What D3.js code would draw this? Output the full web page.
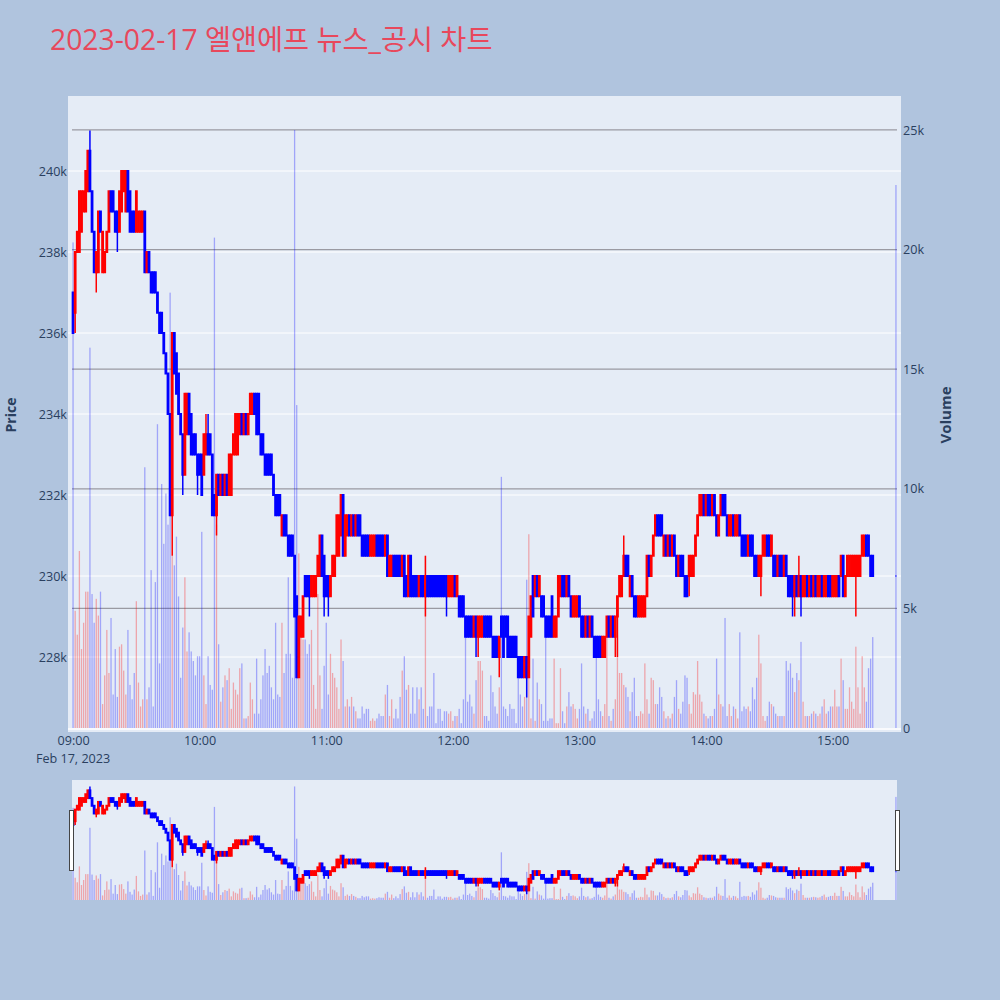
<!DOCTYPE html>
<html>
<head>
<meta charset="utf-8">
<script src="https://d3js.org/d3.v7.min.js"></script>
<style>
  body { margin: 0; background: #B0C4DE; }
  text { font-family: "Open Sans", "Noto Sans CJK KR", sans-serif; }
</style>
</head>
<body>
<svg id="chart" width="1000" height="1000"></svg>
<script>
// minute bars, 2023-02-17 (prices in thousand won, volume in thousand shares)
const times = [
"09:00","09:01","09:02","09:03","09:04","09:05","09:06","09:07","09:08","09:09",
"09:10","09:11","09:12","09:13","09:14","09:15","09:16","09:17","09:18","09:19",
"09:20","09:21","09:22","09:23","09:24","09:25","09:26","09:27","09:28","09:29",
"09:30","09:31","09:32","09:33","09:34","09:35","09:36","09:37","09:38","09:39",
"09:40","09:41","09:42","09:43","09:44","09:45","09:46","09:47","09:48","09:49",
"09:50","09:51","09:52","09:53","09:54","09:55","09:56","09:57","09:58","09:59",
"10:00","10:01","10:02","10:03","10:04","10:05","10:06","10:07","10:08","10:09",
"10:10","10:11","10:12","10:13","10:14","10:15","10:16","10:17","10:18","10:19",
"10:20","10:21","10:22","10:23","10:24","10:25","10:26","10:27","10:28","10:29",
"10:30","10:31","10:32","10:33","10:34","10:35","10:36","10:37","10:38","10:39",
"10:40","10:41","10:42","10:43","10:44","10:45","10:46","10:47","10:48","10:49",
"10:50","10:51","10:52","10:53","10:54","10:55","10:56","10:57","10:58","10:59",
"11:00","11:01","11:02","11:03","11:04","11:05","11:06","11:07","11:08","11:09",
"11:10","11:11","11:12","11:13","11:14","11:15","11:16","11:17","11:18","11:19",
"11:20","11:21","11:22","11:23","11:24","11:25","11:26","11:27","11:28","11:29",
"11:30","11:31","11:32","11:33","11:34","11:35","11:36","11:37","11:38","11:39",
"11:40","11:41","11:42","11:43","11:44","11:45","11:46","11:47","11:48","11:49",
"11:50","11:51","11:52","11:53","11:54","11:55","11:56","11:57","11:58","11:59",
"12:00","12:01","12:02","12:03","12:04","12:05","12:06","12:07","12:08","12:09",
"12:10","12:11","12:12","12:13","12:14","12:15","12:16","12:17","12:18","12:19",
"12:20","12:21","12:22","12:23","12:24","12:25","12:26","12:27","12:28","12:29",
"12:30","12:31","12:32","12:33","12:34","12:35","12:36","12:37","12:38","12:39",
"12:40","12:41","12:42","12:43","12:44","12:45","12:46","12:47","12:48","12:49",
"12:50","12:51","12:52","12:53","12:54","12:55","12:56","12:57","12:58","12:59",
"13:00","13:01","13:02","13:03","13:04","13:05","13:06","13:07","13:08","13:09",
"13:10","13:11","13:12","13:13","13:14","13:15","13:16","13:17","13:18","13:19",
"13:20","13:21","13:22","13:23","13:24","13:25","13:26","13:27","13:28","13:29",
"13:30","13:31","13:32","13:33","13:34","13:35","13:36","13:37","13:38","13:39",
"13:40","13:41","13:42","13:43","13:44","13:45","13:46","13:47","13:48","13:49",
"13:50","13:51","13:52","13:53","13:54","13:55","13:56","13:57","13:58","13:59",
"14:00","14:01","14:02","14:03","14:04","14:05","14:06","14:07","14:08","14:09",
"14:10","14:11","14:12","14:13","14:14","14:15","14:16","14:17","14:18","14:19",
"14:20","14:21","14:22","14:23","14:24","14:25","14:26","14:27","14:28","14:29",
"14:30","14:31","14:32","14:33","14:34","14:35","14:36","14:37","14:38","14:39",
"14:40","14:41","14:42","14:43","14:44","14:45","14:46","14:47","14:48","14:49",
"14:50","14:51","14:52","14:53","14:54","14:55","14:56","14:57","14:58","14:59",
"15:00","15:01","15:02","15:03","15:04","15:05","15:06","15:07","15:08","15:09",
"15:10","15:11","15:12","15:13","15:14","15:15","15:16","15:17","15:18","15:19",
"15:30"];

const openK = [
237,236.5,238,238,238.5,239,239,239.5,240.5,239.5,
238.5,237.5,237.5,239,237.5,237.5,238,238.5,239.5,239.5,
239,239,238.5,239,239.5,239,240,239.5,239,239,
238.5,238.5,238.5,238.5,239,237.5,238,237.5,237.5,237.5,
237,236.5,236.5,236,235.5,235,234,231.5,236,235.5,
235,234,233.5,232.5,233.5,234.5,234,233.5,233.5,233,
233,233,232.5,233,233.5,233.5,233,232,231.5,232.5,
232,232.5,232,232.5,232,232,233,233,233,233.5,
234,233.5,234,233.5,234,234,234.5,234.5,234.5,233.5,
233.5,233,233,233,233,232.5,232,232,232,231,
231.5,231.5,231,231,231,230.5,229.5,227.5,228.5,228.5,
230,230,230,229.5,229.5,229.5,230,230,231,230.5,
230,230,229.5,230,230,230.5,230.5,231,232,230.5,
231,231.5,231,231.5,231,231.5,231.5,231,231,231,
231,230.5,230.5,230.5,231,231,231,231,230.5,231,
230,230,230.5,230.5,230.5,230.5,230,230.5,230,229.5,
230.5,230,230,230,229.5,230,230,229.5,230,230,
230,230,230,230,230,230,230,230,229.5,229.5,
229.5,230,229.5,229.5,229.5,229.5,229,229,229,229,
228.5,229,228.5,228.5,228.5,229,229,229,229,228.5,
228.5,228.5,228,229,229,229,229,228.5,228.5,228.5,
228.5,228,228,228,227.5,228,227.5,228.5,230,229.5,
230,229.5,229.5,229.5,229,229,229,229.5,228.5,228.5,
229,229.5,230,230,229.5,230,229.5,229,229,229,
229.5,229,229,228.5,229,228.5,229,228.5,228.5,228.5,
228.5,228,228,228.5,229,228.5,229,228.5,229,229.5,
229.5,230,230.5,230.5,229.5,230,229.5,229.5,229,229,
229,229,229.5,230.5,230,230.5,231,231.5,231.5,231.5,
230.5,231,230.5,231,230.5,231,230.5,230,230.5,230.5,
230,230,230,230,230,230.5,231,231.5,231.5,232,
231.5,232,232,231.5,232,231.5,231,231.5,232,232,
231.5,231,231,231.5,231,231,231.5,231,231,231,
230.5,231,231,230.5,230.5,230,230,230.5,230.5,231,
231,230.5,230.5,230.5,230,230.5,230.5,230,230.5,230,
230,230,229.5,230,229.5,230,229.5,229.5,230,229.5,
230,229.5,230,229.5,229.5,230,229.5,229.5,230,230,
229.5,229.5,229.5,230,230,230.5,229.5,230,230,230,
230,230,230,230,230.5,230.5,231,231,230.5,230.5,
230];

const highK = [
237,238,238.5,239.5,239.5,239.5,240,240.5,241,239.5,
238.5,238,239,239,238.5,238,238.5,239.5,239.5,239.5,
239,239,239.5,240,240,240,240,239.5,239,239,
239.5,239,239,239,239,238,238,237.5,237.5,237.5,
237,236.5,236.5,236,235.5,235,234,236,236,235.5,
235,234,233.5,234.5,234.5,234.5,234,233.5,233.5,233,
233,233,233.5,234,234,233.5,233,232,232.5,232.5,
232.5,232.5,232.5,232.5,233,233,233.5,234,234,234,
234,234,234,234,234.5,234.5,234.5,234.5,234.5,233.5,
233.5,233,233,233,233,232.5,232,232,232,231.5,
231.5,231.5,231,231,231,230.5,229.5,229,229,229.5,
230,230,230,230,230,230,230.5,231,231,230.5,
230,230,230,230.5,230.5,231.5,231.5,232,232,231.5,
231.5,231.5,231.5,231.5,231.5,231.5,231.5,231,231,231,
231,231,231,231,231,231,231,231,231,231,
230.5,230.5,230.5,230.5,230.5,230.5,230.5,230.5,230,230.5,
230.5,230,230,230,230,230,230,230.5,230,230,
230,230,230,230,230,230,230,230,230,230,
230,230,230,229.5,229.5,229.5,229,229,229,229,
229,229,229,229,229,229,229,229,229,228.5,
228.5,228.5,228.5,229,229,229,229,228.5,228.5,228.5,
228.5,228,228,228,228,228,229,229.5,230,230,
230,230,229.5,229.5,229,229,229,229.5,229,229,
230,230,230,230,230,230,229.5,229.5,229.5,229.5,
229.5,229,229,229,229,229,229,228.5,228.5,228.5,
228.5,228.5,228.5,229,229,229,229,229,229.5,230,
230,231,230.5,230.5,230,230,229.5,229.5,229.5,229.5,
229.5,229.5,230.5,230.5,230.5,231,231.5,231.5,231.5,231.5,
231,231,231,231,231,231,230.5,230.5,230.5,230.5,
230,230,230.5,230.5,230.5,231,231.5,232,232,232,
232,232,232,232,232,231.5,231.5,232,232,232,
231.5,231.5,231.5,231.5,231.5,231.5,231.5,231,231,231,
231,231,231,230.5,230.5,230.5,230.5,231,231,231,
231,231,230.5,230.5,230.5,230.5,230.5,230.5,230.5,230,
230,230,230,230,230.5,230,230,230,230,230,
230,230,230,230,230,230,230,230,230,230,
230,230,230,230,230.5,230.5,230,230.5,230.5,230.5,
230.5,230.5,230.5,230.5,231,231,231,231,230.5,230.5,
230];

const lowK = [
236,236,238,238,238.5,239,239,239.5,239.5,238.5,
237.5,237,237.5,238.5,237.5,237.5,238,238.5,239,239,
238.5,238,238.5,239,239.5,239,239,238.5,238.5,238.5,
238.5,238.5,238.5,238.5,237.5,237.5,237.5,237,237,237,
236.5,236,236,235.5,235,234,231.5,230.5,235,234.5,
234,233.5,232,232.5,233.5,233.5,233,233,233,232,
232.5,232,232.5,233,233,233,231.5,231.5,231,232,
232,232,232,232,232,232,233,233,233,233.5,
233.5,233.5,233.5,233.5,234,234,234,233.5,233.5,233,
233,232.5,232.5,232.5,232.5,232,231.5,231.5,231.5,231,
231,231,230.5,230.5,230.5,229,227.5,227.5,228.5,228.5,
229.5,229.5,229,229.5,229.5,229.5,230,230,230,229,
229.5,229,229.5,230,230,230.5,230.5,231,230.5,230.5,
231,231,231,231,231,231,231,230.5,230.5,230.5,
230.5,230.5,230.5,230.5,230.5,230.5,230.5,230.5,230.5,230,
230,230,230,230,230,230,230,229.5,229.5,229.5,
229.5,229.5,229.5,229.5,229.5,229.5,229.5,229,229.5,229.5,
229.5,229.5,229.5,229.5,229.5,229.5,229.5,229,229.5,229.5,
229.5,229.5,229.5,229,229,229,228.5,228.5,228.5,228.5,
228.5,228,228,228.5,228.5,228.5,228.5,228.5,228.5,228,
228,228,227.5,228.5,228,228.5,228,228,228,228,
228,227.5,227.5,227.5,227.5,227,227.5,228.5,229,229.5,
229.5,229.5,229,229,228.5,228.5,228.5,228.5,228.5,228.5,
229,229.5,229.5,229.5,229.5,229.5,229,229,229,229,
229,228.5,228.5,228.5,228.5,228.5,228.5,228,228,228,
228,228,228,228.5,228.5,228.5,228.5,228,228,229.5,
229.5,230,230,230,229.5,229.5,229,229,229,229,
229,229,229.5,230,230,230.5,231,231,231,231,
230.5,230.5,230.5,230.5,230.5,230.5,230,230,230,230,
229.5,229.5,229.5,230,230,230.5,231,231.5,231.5,231.5,
231.5,231.5,231.5,231.5,231.5,231,231,231.5,231.5,231.5,
231,231,231,231,231,231,231,230.5,230.5,230.5,
230.5,230.5,230.5,230,230,230,229.5,230.5,230.5,230.5,
230.5,230.5,230,230,230,230,230,230,230,229.5,
229.5,229,229,229.5,229.5,229,229.5,229.5,229.5,229.5,
229.5,229.5,229.5,229.5,229.5,229.5,229.5,229.5,229.5,229.5,
229.5,229.5,229.5,229.5,230,229.5,229.5,230,230,230,
230,229,230,230,230.5,230.5,230.5,230.5,230,230,
230];

const closeK = [
236,238,238.5,239.5,239.5,239.5,240,240.5,239.5,238.5,
237.5,238,239,238.5,238.5,238,238.5,239.5,239,239,
238.5,238.5,239.5,240,240,240,239,238.5,238.5,238.5,
239.5,239,239,239,237.5,238,237.5,237,237,237,
236.5,236,236,235.5,235,234,231.5,236,235,234.5,
234,233.5,232.5,234.5,234.5,233.5,233,233,233,232.5,
232.5,232,233.5,233.5,233,233,231.5,231.5,232.5,232,
232.5,232,232.5,232,233,233,233.5,234,234,234,
233.5,234,233.5,234,234.5,234.5,234,233.5,233.5,233,
233,232.5,232.5,232.5,232.5,232,231.5,231.5,231.5,231.5,
231,231,230.5,230.5,230.5,229,227.5,229,229,229.5,
229.5,229.5,229.5,230,230,230,230.5,231,230,229.5,
229.5,229.5,230,230.5,230.5,231.5,231.5,232,230.5,231.5,
231.5,231,231.5,231,231.5,231,231,230.5,230.5,230.5,
230.5,231,231,231,230.5,230.5,230.5,230.5,231,230,
230.5,230.5,230,230,230,230,230.5,229.5,229.5,230.5,
229.5,229.5,229.5,229.5,230,229.5,229.5,230,229.5,229.5,
229.5,229.5,229.5,229.5,229.5,229.5,229.5,229.5,230,230,
230,229.5,230,229,229,229,228.5,228.5,228.5,228.5,
229,228.5,229,229,229,228.5,228.5,228.5,228.5,228,
228,228,228.5,228.5,228,228.5,228,228,228,228,
228,227.5,227.5,227.5,228,227.5,229,229.5,229,230,
229.5,230,229,229,228.5,228.5,228.5,228.5,229,229,
230,230,229.5,229.5,230,229.5,229,229.5,229.5,229.5,
229,228.5,228.5,229,228.5,229,228.5,228,228,228,
228,228.5,228.5,229,228.5,229,228.5,229,229.5,230,
230,230.5,230,230,230,229.5,229,229,229.5,229.5,
229.5,229.5,230.5,230,230.5,231,231.5,231,231,231,
231,230.5,231,230.5,231,230.5,230,230.5,230,230,
229.5,229.5,230.5,230.5,230.5,231,231.5,232,232,231.5,
232,231.5,231.5,232,231.5,231,231.5,232,231.5,231.5,
231,231.5,231.5,231,231.5,231.5,231,230.5,230.5,230.5,
231,230.5,230.5,230,230,230.5,230.5,231,231,230.5,
230.5,231,230,230,230.5,230,230,230.5,230,229.5,
229.5,229.5,230,229.5,230,229.5,230,230,229.5,230,
229.5,230,229.5,230,230,229.5,230,230,229.5,229.5,
230,230,230,229.5,230.5,229.5,230,230.5,230.5,230.5,
230.5,230.5,230.5,230.5,231,231,230.5,230.5,230,230,
230];

const volumeK = [
20.3,4.9,3.9,7.4,3.3,4.4,5.7,5.7,15.9,5.6,
4.4,5.4,4.7,5.7,1.0,2.2,4.1,2.3,4.6,1.4,
3.3,1.3,3.4,3.5,2.4,1.4,4.1,1.8,1.2,2.3,
5.3,1.9,0.9,1.2,10.9,1.2,1.7,6.6,0.9,6.1,
12.7,2.7,10.2,7.7,9.8,8.5,18.2,7.2,6.8,8.0,
5.5,2.1,4.2,6.3,3.2,4.0,3.2,2.8,2.2,3.0,
3.0,8.2,2.2,1.0,3.0,1.8,1.6,20.5,8.5,3.5,
1.1,1.7,2.2,2.0,2.5,0.8,1.9,1.6,1.4,2.5,
2.7,0.4,0.4,0.5,1.9,1.2,0.6,2.9,0.6,1.2,
2.2,3.3,2.3,2.6,1.7,1.2,4.4,1.4,1.3,4.4,
2.3,3.1,6.3,3.1,2.1,25.0,13.5,7.3,4.0,3.7,
3.7,3.1,3.5,4.1,1.8,0.8,5.6,2.2,0.8,2.6,
4.4,1.4,3.1,2.3,2.1,1.7,0.8,3.7,2.8,0.9,
1.2,0.9,1.3,0.9,0.7,0.4,0.4,0.9,0.6,0.8,
0.8,0.3,0.4,0.3,0.4,0.6,0.5,0.5,1.4,1.8,
0.5,1.2,0.4,0.8,0.4,1.3,2.4,3.0,1.6,1.8,
0.6,1.7,0.6,1.7,1.2,1.7,0.8,7.2,0.5,0.9,
0.9,2.3,0.2,0.8,0.8,0.3,0.7,0.7,0.6,0.7,
0.3,0.5,0.5,0.8,0.2,1.2,4.7,1.1,1.4,0.9,
0.6,2.0,2.8,2.8,2.4,0.5,0.5,0.3,2.2,1.5,
0.9,0.6,1.7,10.5,0.9,0.8,0.5,1.0,0.8,0.8,
0.2,2.3,1.4,0.9,1.3,6.2,8.1,0.4,2.9,0.3,
1.9,1.2,1.0,0.3,4.7,0.3,0.4,0.4,2.9,0.2,
0.2,2.5,0.7,0.2,0.9,1.5,0.9,1.0,0.8,0.4,
0.8,2.7,0.9,0.6,0.8,0.3,0.4,0.7,3.0,1.2,
0.7,0.5,1.0,4.2,0.5,0.3,0.8,1.2,3.9,2.3,
2.3,1.8,1.7,1.3,0.7,1.5,2.1,0.5,0.5,0.7,
0.6,2.7,1.2,0.6,2.1,2.0,1.0,1.0,1.7,1.3,
0.7,0.4,0.5,0.4,0.6,1.3,2.0,0.8,0.6,1.1,
2.2,2.1,1.0,0.6,1.5,1.4,2.8,1.4,1.1,0.6,
0.5,0.4,0.5,0.5,0.8,2.9,1.4,1.0,0.9,4.6,
0.5,1.0,0.5,0.9,0.8,0.4,4.0,0.7,0.9,0.8,
0.9,0.7,1.7,1.2,2.1,3.9,2.7,0.5,0.3,0.5,
1.1,1.0,0.9,0.6,0.5,0.5,0.5,0.5,2.8,2.4,
2.7,2.1,1.5,2.3,2.0,3.6,1.1,0.5,0.5,0.5,
0.6,0.7,0.6,0.5,0.6,0.9,1.2,0.6,0.7,0.9,
0.9,1.6,0.9,0.9,2.9,2.0,0.8,0.8,1.7,1.1,
0.8,3.4,1.7,0.6,3.0,1.7,1.1,2.5,2.9,3.8,
22.7];

const priceTicks = [228000, 230000, 232000, 234000, 236000, 238000, 240000];
const volumeTicks = [0, 5000, 10000, 15000, 20000, 25000];
const hourTicks = ["09:00", "10:00", "11:00", "12:00", "13:00", "14:00", "15:00"];

const day = "2023-02-17";
const parseMin = d3.timeParse("%Y-%m-%d %H:%M");
const parseSec = d3.timeParse("%Y-%m-%d %H:%M:%S");

const rows = times.map((t, i) => ({
  t: parseMin(day + " " + t),
  o: openK[i] * 1000,
  h: highK[i] * 1000,
  l: lowK[i] * 1000,
  c: closeK[i] * 1000,
  v: volumeK[i] * 1000
}));

const svg = d3.select("#chart");
const upColor = "#ff0000", downColor = "#0000ff";
const colorOf = d => d.c > d.o ? upColor : downColor;

const x = d3.scaleTime()
  .domain([parseSec(day + " 08:59:30"), parseSec(day + " 15:30:30")])
  .range([72, 897]);
const y = d3.scaleLinear().domain([226247, 241852]).range([728, 96]);
const yv = d3.scaleLinear().domain([0, 26420]).range([728, 96]);
const yMini = d3.scaleLinear().domain(y.domain()).range([900, 780]);
const yvMini = d3.scaleLinear().domain(yv.domain()).range([900, 780]);

// background of page and plot
svg.append("rect").attr("width", 1000).attr("height", 1000).attr("fill", "#B0C4DE");
svg.append("rect").attr("x", 68).attr("y", 96).attr("width", 833).attr("height", 636)
  .attr("fill", "#E5ECF6");

// title
svg.append("text")
  .attr("x", 50).attr("y", 50)
  .attr("font-size", "28.3px")
  .attr("fill", "#e8485c")
  .text("2023-02-17 엘앤에프 뉴스_공시 차트");

// grid lines
svg.append("g").selectAll("line").data(priceTicks).join("line")
  .attr("x1", 68).attr("x2", 901)
  .attr("y1", d => y(d)).attr("y2", d => y(d))
  .attr("stroke", "white").attr("stroke-width", 1);
svg.append("g").selectAll("line").data(volumeTicks.filter(d => d > 0)).join("line")
  .attr("x1", 72).attr("x2", 897)
  .attr("y1", d => yv(d)).attr("y2", d => yv(d))
  .attr("stroke", "#9a9aa2").attr("stroke-width", 1.3);
svg.append("line").attr("x1", 68).attr("x2", 901)
  .attr("y1", yv(0) + 1).attr("y2", yv(0) + 1)
  .attr("stroke", "white").attr("stroke-width", 1.5);

// draws volume bars + candles into a panel
function drawPanel(g, yP, yV, barW) {
  g.append("g").selectAll("rect").data(rows).join("rect")
    .attr("x", d => x(d.t) - barW / 2)
    .attr("width", barW)
    .attr("y", d => yV(d.v))
    .attr("height", d => yV(0) - yV(d.v))
    .attr("fill", colorOf)
    .attr("opacity", 0.3);

  const c = g.append("g").selectAll("g").data(rows).join("g")
    .attr("stroke", colorOf);
  c.append("line")
    .attr("x1", d => x(d.t)).attr("x2", d => x(d.t))
    .attr("y1", d => yP(d.h)).attr("y2", d => yP(d.l))
    .attr("stroke-width", 1.5);
  c.append("path")
    .attr("d", d => {
      const cx = x(d.t), top = yP(Math.max(d.o, d.c)), bot = yP(Math.min(d.o, d.c));
      return `M${cx - 0.4},${top}H${cx + 0.4}V${bot}H${cx - 0.4}Z`;
    })
    .attr("fill", colorOf)
    .attr("stroke-width", 2);
}

svg.append("clipPath").attr("id", "mainClip")
  .append("rect").attr("x", 68).attr("y", 96).attr("width", 833).attr("height", 636);
drawPanel(svg.append("g").attr("clip-path", "url(#mainClip)"), y, yv, 1.3);

// axes
const tickColor = "#2a3f5f";
const yAxis = svg.append("g").attr("transform", "translate(72,0)")
  .call(d3.axisLeft(y).tickValues(priceTicks).tickFormat(d3.format("~s")).tickSize(0).tickPadding(5));
const y2Axis = svg.append("g").attr("transform", "translate(897,0)")
  .call(d3.axisRight(yv).tickValues(volumeTicks).tickFormat(d3.format("~s")).tickSize(0).tickPadding(6));
const xAxis = svg.append("g").attr("transform", "translate(0,733)")
  .call(d3.axisBottom(x).tickValues(hourTicks.map(h => parseMin(day + " " + h)))
    .tickFormat(d3.timeFormat("%H:%M")).tickSize(0).tickPadding(3));
[yAxis, y2Axis, xAxis].forEach(a => {
  a.select(".domain").remove();
  a.selectAll("text").attr("fill", tickColor).attr("font-size", "12.6px")
    .attr("font-family", "\"Open Sans\", sans-serif");
});

svg.append("text")
  .attr("x", x(parseMin(day + " 09:00"))).attr("y", 763)
  .attr("text-anchor", "middle").attr("font-size", "12.6px").attr("fill", tickColor)
  .text("Feb 17, 2023");

svg.append("text")
  .attr("transform", "translate(16,415) rotate(-90)")
  .attr("text-anchor", "middle").attr("font-size", "14px").attr("font-weight", "bold")
  .attr("fill", tickColor).text("Price");
svg.append("text")
  .attr("transform", "translate(951,415) rotate(-90)")
  .attr("text-anchor", "middle").attr("font-size", "15px").attr("font-weight", "bold")
  .attr("fill", tickColor).text("Volume");

// range slider
svg.append("rect").attr("x", 72).attr("y", 780).attr("width", 825).attr("height", 120)
  .attr("fill", "#E5ECF6");
svg.append("clipPath").attr("id", "miniClip")
  .append("rect").attr("x", 72).attr("y", 780).attr("width", 825).attr("height", 120);
drawPanel(svg.append("g").attr("clip-path", "url(#miniClip)"), yMini, yvMini, 1.3);

[69.5, 895.5].forEach(hx => {
  svg.append("rect")
    .attr("x", hx).attr("y", 810.5).attr("width", 4).attr("height", 60)
    .attr("fill", "white").attr("stroke", "#444").attr("stroke-width", 1);
});
</script>
</body>
</html>
